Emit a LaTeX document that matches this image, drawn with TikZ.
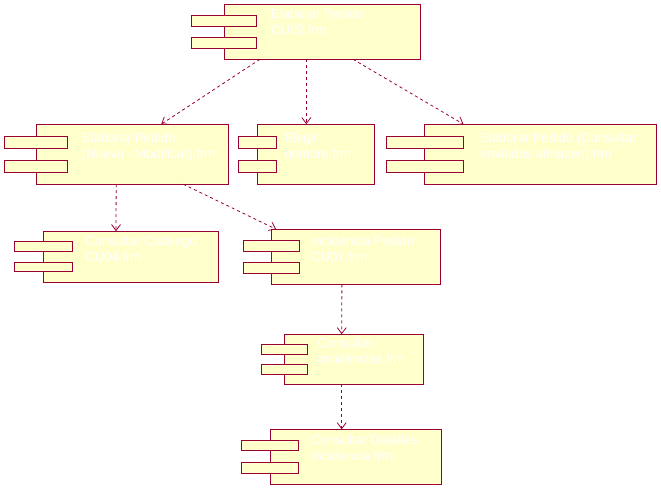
\documentclass[tikz,border=0pt]{standalone}
\usepackage{fontspec}
\setmainfont{Liberation Sans}
\usetikzlibrary{arrows.meta}
\definecolor{umlred}{RGB}{153,0,51}
\definecolor{umlfill}{RGB}{255,255,204}
\begin{document}
\begin{tikzpicture}[x=1pt, y=-1pt, font=\fontsize{13}{16}\selectfont]
    \tikzstyle{comp_style} = [draw=umlred, fill=umlfill, line width=1pt, rectangle, inner sep=0, outer sep=0]
    \tikzstyle{pin_style} = [draw=umlred, fill=umlfill, line width=1pt, rectangle, inner sep=0, outer sep=0]
    \tikzstyle{label_style} = [white, anchor=north west, align=left, inner sep=0]
    \tikzstyle{dep_style} = [umlred, line width=0.8pt, dash pattern=on 3pt off 3pt, -{Straight Barb[length=6pt, width=9pt]}]

    \useasboundingbox (0,0) rectangle (661,489);

    % components
    \node[comp_style, minimum width=196pt, minimum height=55pt] (cu02) at (322,31.8) {};
    \node[pin_style, minimum width=65pt, minimum height=11pt] (cu02_a) at ([yshift=11pt]cu02.west) {};
    \node[pin_style, minimum width=65pt, minimum height=11pt] (cu02_b) at ([yshift=-11pt]cu02.west) {};
    \node[label_style] (cu02_t) at (271,9) {Elaborar Pedido\\CU02.frm};

    \node[comp_style, minimum width=192pt, minimum height=60pt] (nuevo) at (132.2,154.2) {};
    \node[pin_style, minimum width=63pt, minimum height=12pt] (nuevo_a) at ([yshift=12pt]nuevo.west) {};
    \node[pin_style, minimum width=63pt, minimum height=12pt] (nuevo_b) at ([yshift=-12pt]nuevo.west) {};
    \node[label_style] (nuevo_t) at (82,132.5) {Elaborar Pedido\\(Nuevo - Modificar).frm};

    \node[comp_style, minimum width=117pt, minimum height=60pt] (elegir) at (315.8,154.2) {};
    \node[pin_style, minimum width=38pt, minimum height=12pt] (elegir_a) at ([yshift=12pt]elegir.west) {};
    \node[pin_style, minimum width=38pt, minimum height=12pt] (elegir_b) at ([yshift=-12pt]elegir.west) {};
    \node[label_style] (elegir_t) at (284.3,132.5) {Elegir\\nombre.frm};

    \node[comp_style, minimum width=232pt, minimum height=60pt] (enviados) at (540.5,154.2) {};
    \node[pin_style, minimum width=77pt, minimum height=12pt] (enviados_a) at ([yshift=12pt]enviados.west) {};
    \node[pin_style, minimum width=77pt, minimum height=12pt] (enviados_b) at ([yshift=-12pt]enviados.west) {};
    \node[label_style] (enviados_t) at (480,132.5) {Elaborar Pedido (Consultar\\enviados almacen).frm};

    \node[comp_style, minimum width=175pt, minimum height=51pt] (cu04) at (130.8,256.7) {};
    \node[pin_style, minimum width=58pt, minimum height=9.5pt] (cu04_a) at ([yshift=10.3pt]cu04.west) {};
    \node[pin_style, minimum width=58pt, minimum height=9.5pt] (cu04_b) at ([yshift=-10.3pt]cu04.west) {};
    \node[label_style] (cu04_t) at (85.3,236) {Consultar Catalogo\\CU04.frm};

    \node[comp_style, minimum width=169pt, minimum height=55pt] (cu07) at (355.7,256.8) {};
    \node[pin_style, minimum width=56pt, minimum height=11pt] (cu07_a) at ([yshift=11pt]cu07.west) {};
    \node[pin_style, minimum width=56pt, minimum height=11pt] (cu07_b) at ([yshift=-11pt]cu07.west) {};
    \node[label_style] (cu07_t) at (311.3,235.5) {Incidencia Pedido\\CU07.frm};

    \node[comp_style, minimum width=139.4pt, minimum height=50pt] (incid) at (354,359.2) {};
    \node[pin_style, minimum width=46pt, minimum height=10pt] (incid_a) at ([yshift=10pt]incid.west) {};
    \node[pin_style, minimum width=46pt, minimum height=10pt] (incid_b) at ([yshift=-10pt]incid.west) {};
    \node[label_style] (incid_t) at (317.3,338.3) {Consultar\\Incidencias.frm};

    \node[comp_style, minimum width=171pt, minimum height=55pt] (detalles) at (355.8,456.8) {};
    \node[pin_style, minimum width=57pt, minimum height=10.5pt] (detalles_a) at ([yshift=11.2pt]detalles.west) {};
    \node[pin_style, minimum width=57pt, minimum height=10.5pt] (detalles_b) at ([yshift=-11.2pt]detalles.west) {};
    \node[label_style] (detalles_t) at (311.3,435) {Consultar Detalles\\Incidencia.frm};

    % dependencies
    \draw[dep_style] ([xshift=36pt]cu02.south west) -- ([xshift=125pt]nuevo.north west);
    \draw[dep_style] ([xshift=82.3pt]cu02.south west) -- ([xshift=49pt]elegir.north west);
    \draw[dep_style] ([xshift=129pt]cu02.south west) -- ([xshift=39pt]enviados.north west);
    \draw[dep_style] ([xshift=80pt]nuevo.south west) -- ([xshift=72.7pt]cu04.north west);
    \draw[dep_style] ([xshift=147pt]nuevo.south west) -- ([xshift=5pt]cu07.north west);
    \draw[dep_style] ([xshift=70.7pt]cu07.south west) -- ([xshift=57.4pt]incid.north west);
    \draw[dep_style] ([xshift=57.4pt]incid.south west) -- ([xshift=71.4pt]detalles.north west);
\end{tikzpicture}
\end{document}
